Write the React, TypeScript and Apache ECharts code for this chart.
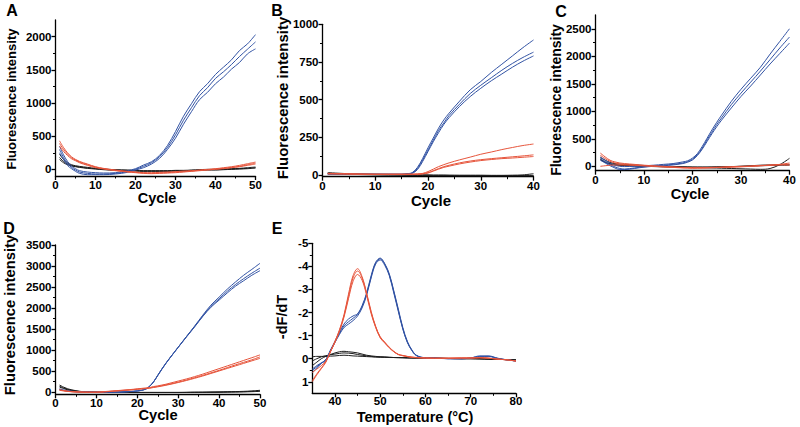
import React, { useEffect, useRef } from "react";
import * as echarts from "echarts";

// ---------- Panel A (cycles 1-50) ----------
const cyclesA = [1, 2, 3, 4, 5, 6, 8, 10, 12, 15, 18, 20, 22, 24, 26, 28, 30, 32, 34, 36, 38, 40, 42, 44, 46, 48, 50];
const blueA1 = [350, 220, 120, 50, 10, -20, -40, -50, -55, -50, -20, 10, 65, 115, 210, 360, 570, 800, 990, 1170, 1290, 1430, 1540, 1650, 1790, 1890, 2030];
const blueA2 = [300, 180, 90, 30, -10, -40, -60, -70, -70, -60, -35, 0, 45, 100, 190, 330, 520, 740, 930, 1110, 1230, 1370, 1470, 1580, 1700, 1810, 1920];
const blueA3 = [250, 150, 60, 10, -30, -60, -80, -80, -80, -70, -45, -10, 25, 80, 165, 300, 470, 680, 870, 1050, 1160, 1290, 1390, 1510, 1610, 1740, 1815];
const redA1 = [430, 330, 250, 190, 150, 120, 80, 40, 15, -10, -30, -40, -50, -50, -45, -40, -35, -25, -20, -10, 0, 10, 25, 40, 60, 85, 110];
const redA2 = [390, 300, 230, 175, 140, 110, 70, 35, 10, -15, -35, -45, -55, -60, -55, -50, -40, -35, -25, -15, -5, 5, 15, 30, 45, 70, 95];
const redA3 = [350, 270, 210, 160, 130, 100, 60, 25, 5, -20, -40, -50, -60, -65, -60, -55, -50, -40, -30, -20, -10, 0, 10, 25, 40, 60, 80];
const blackA1 = [230, 150, 100, 70, 55, 45, 30, 15, 5, -5, -10, -15, -20, -20, -20, -20, -15, -15, -10, -5, 0, 0, 5, 10, 15, 25, 35];
const blackA2 = [180, 120, 80, 60, 45, 35, 20, 10, 0, -10, -15, -20, -25, -25, -25, -25, -20, -20, -15, -10, -5, -5, 0, 5, 10, 15, 25];
const blackA3 = [150, 100, 70, 50, 40, 30, 15, 5, -5, -15, -20, -25, -30, -30, -30, -30, -25, -25, -20, -15, -10, -10, -5, 0, 5, 10, 20];

// ---------- Panel B (cycles 1-40) ----------
const cyclesB = [1, 5, 10, 15, 16, 17, 18, 19, 20, 21, 22, 23, 24, 26, 28, 30, 32, 34, 36, 38, 40];
const blueB1 = [8, 6, 5, 5, 8, 15, 50, 110, 180, 245, 310, 365, 410, 490, 565, 620, 680, 735, 790, 845, 896];
const blueB2 = [6, 5, 4, 4, 6, 12, 42, 100, 165, 230, 295, 345, 395, 470, 540, 595, 645, 695, 740, 780, 815];
const blueB3 = [5, 4, 3, 3, 5, 10, 35, 90, 155, 220, 280, 335, 380, 455, 520, 575, 625, 670, 715, 755, 790];
const redB1 = [10, 8, 5, 5, 5, 5, 6, 10, 22, 38, 55, 68, 80, 100, 118, 137, 152, 168, 182, 195, 205];
const redB2 = [8, 6, 4, 4, 4, 4, 5, 8, 15, 28, 42, 55, 64, 80, 92, 101, 108, 114, 120, 126, 133];
const redB3 = [7, 5, 3, 3, 3, 3, 4, 7, 12, 25, 38, 50, 58, 73, 85, 95, 102, 108, 112, 117, 122];
const blackB1 = [15, 8, 4, 2, 1, 0, 0, 0, 0, -1, -1, -1, -2, -2, -2, -2, -3, -3, -2, 0, 8];
const blackB2 = [10, 6, 2, 0, 0, -1, -2, -2, -2, -3, -3, -3, -3, -4, -4, -4, -4, -4, -4, -4, -3];
const blackB3 = [8, 4, 0, -2, -3, -3, -4, -4, -4, -5, -5, -5, -5, -6, -6, -6, -6, -6, -6, -6, -6];

// ---------- Panel C (cycles 1-40) ----------
const cyclesC = [1, 2, 3, 4, 5, 6, 8, 10, 12, 14, 16, 18, 19, 20, 21, 22, 23, 24, 25, 26, 28, 30, 32, 34, 36, 38, 40];
const blueC1 = [170, 110, 60, 20, 0, -5, 0, 10, 20, 35, 50, 80, 100, 150, 230, 360, 510, 660, 800, 930, 1180, 1400, 1600, 1800, 2040, 2270, 2500];
const blueC2 = [140, 80, 30, -10, -40, -50, -30, -10, 5, 20, 35, 60, 85, 130, 210, 330, 480, 620, 760, 880, 1120, 1330, 1530, 1730, 1940, 2150, 2350];
const blueC3 = [110, 60, 10, -30, -60, -60, -40, -15, 0, 10, 25, 50, 75, 115, 195, 310, 450, 590, 720, 840, 1060, 1270, 1460, 1660, 1860, 2050, 2240];
const redC1 = [240, 170, 110, 80, 60, 50, 35, 20, 10, 0, -10, -20, -22, -25, -25, -25, -22, -20, -18, -15, -10, -5, 0, 10, 20, 30, 40];
const redC2 = [200, 140, 90, 60, 40, 30, 20, 10, 0, -10, -15, -25, -28, -30, -30, -30, -28, -25, -22, -20, -10, 0, 5, 15, 20, 25, 20];
const redC3 = [0, 10, 20, 25, 25, 25, 20, 10, 0, -10, -20, -30, -32, -35, -33, -30, -28, -25, -22, -20, -15, -10, 0, 10, 20, 35, 60];
const blackC1 = [160, 110, 70, 50, 40, 35, 25, 15, 5, 0, -5, -10, -12, -15, -15, -15, -15, -15, -12, -10, -5, 0, 10, 20, 25, 30, 30];
const blackC2 = [130, 80, 50, 30, 20, 15, 10, 5, 0, -5, -10, -15, -18, -20, -22, -25, -28, -30, -32, -35, -40, -45, -50, -55, -40, 30, 145];
const blackC3 = [120, 70, 40, 25, 15, 10, 5, 0, -5, -10, -12, -15, -15, -15, -15, -15, -15, -12, -10, -8, -5, 0, 5, 10, 15, 20, 20];

// ---------- Panel D (cycles 1-50) ----------
const cyclesD = [1, 2, 3, 4, 6, 8, 10, 12, 14, 16, 18, 20, 22, 23, 24, 25, 26, 27, 28, 30, 32, 34, 36, 38, 40, 42, 44, 46, 48, 50];
const blueD1 = [80, 50, 30, 20, 10, 5, 0, 0, 0, 5, 15, 30, 70, 140, 250, 400, 550, 690, 820, 1070, 1320, 1570, 1830, 2070, 2260, 2450, 2620, 2780, 2920, 3065];
const blueD2 = [70, 45, 28, 18, 8, 4, 0, 0, 0, 5, 15, 30, 70, 140, 250, 400, 550, 690, 820, 1070, 1320, 1560, 1810, 2040, 2220, 2400, 2560, 2700, 2830, 2950];
const blueD3 = [60, 40, 25, 15, 7, 3, 0, 0, 0, 4, 14, 28, 68, 138, 248, 398, 545, 685, 815, 1065, 1310, 1550, 1800, 2020, 2190, 2360, 2520, 2650, 2780, 2890];
const redD1 = [60, 40, 25, 15, 5, 0, 0, 15, 30, 45, 60, 80, 100, 110, 135, 150, 170, 190, 215, 265, 315, 370, 430, 495, 560, 625, 690, 755, 820, 887];
const redD2 = [50, 35, 20, 12, 4, 0, 0, 10, 25, 40, 55, 72, 90, 100, 120, 137, 155, 175, 195, 240, 290, 345, 400, 460, 520, 585, 650, 710, 770, 840];
const redD3 = [45, 30, 18, 10, 3, 0, 0, 8, 22, 36, 50, 68, 85, 95, 112, 128, 145, 165, 185, 230, 278, 330, 385, 445, 505, 565, 625, 685, 745, 805];
const blackD1 = [170, 120, 80, 55, 20, 5, 0, -3, -5, -5, -5, -5, -5, -5, -5, -5, -5, -5, -5, -5, -3, 0, 0, 3, 5, 10, 15, 20, 30, 45];
const blackD2 = [140, 100, 65, 45, 15, 3, -2, -5, -6, -6, -6, -6, -6, -6, -6, -6, -6, -6, -6, -6, -5, -3, -2, 0, 2, 5, 8, 12, 20, 30];
const blackD3 = [120, 85, 55, 35, 10, 0, -3, -6, -8, -8, -8, -8, -8, -8, -8, -8, -8, -8, -8, -8, -7, -5, -4, -2, 0, 3, 5, 8, 12, 20];

// ---------- Panel E (temperature 35-80 °C, -dF/dT) ----------
const tempsE = [35, 36, 37, 38, 39, 40, 41, 42, 43, 44, 45, 46, 47, 48, 49, 50, 51, 52, 53, 54, 55, 56, 57, 58, 60, 62, 65, 68, 70, 72, 74, 76, 78, 80];
const blueE1 = [0.5, 0.35, 0.2, 0.05, -0.35, -0.72, -1.1, -1.42, -1.6, -1.75, -1.92, -2.25, -2.8, -3.55, -4.15, -4.33, -4.1, -3.65, -2.9, -2.1, -1.3, -0.72, -0.36, -0.14, -0.03, -0.03, 0, 0, -0.03, -0.1, -0.1, 0, 0.05, 0.1];
const blueE2 = [0.6, 0.4, 0.2, 0.05, -0.33, -0.7, -1.05, -1.35, -1.5, -1.65, -1.85, -2.2, -2.75, -3.5, -4.1, -4.28, -4.05, -3.6, -2.85, -2.05, -1.28, -0.7, -0.35, -0.13, -0.03, -0.02, 0, 0, -0.02, -0.08, -0.1, -0.02, 0.05, 0.1];
const blueE3 = [0.45, 0.3, 0.18, 0.04, -0.37, -0.75, -1.15, -1.5, -1.72, -1.85, -1.95, -2.3, -2.85, -3.6, -4.18, -4.36, -4.12, -3.68, -2.95, -2.15, -1.35, -0.75, -0.38, -0.15, -0.04, -0.03, 0, 0, -0.03, -0.12, -0.12, -0.01, 0.05, 0.1];
const redE1 = [1.0, 0.7, 0.43, 0.15, -0.29, -0.75, -1.25, -1.9, -2.8, -3.6, -3.9, -3.55, -2.85, -2.05, -1.4, -0.95, -0.72, -0.5, -0.32, -0.19, -0.14, -0.1, -0.07, -0.05, -0.03, -0.02, -0.02, -0.03, -0.03, -0.05, -0.02, 0.02, 0.05, 0.1];
const redE2 = [0.95, 0.66, 0.4, 0.13, -0.3, -0.73, -1.22, -1.85, -2.7, -3.5, -3.8, -3.5, -2.8, -2.0, -1.38, -0.93, -0.7, -0.48, -0.31, -0.18, -0.13, -0.09, -0.06, -0.05, -0.03, -0.02, -0.02, -0.03, -0.03, -0.04, -0.02, 0.02, 0.05, 0.1];
const redE3 = [0.6, 0.45, 0.3, 0.1, -0.3, -0.7, -1.18, -1.8, -2.6, -3.35, -3.65, -3.4, -2.75, -1.95, -1.35, -0.9, -0.68, -0.47, -0.3, -0.18, -0.13, -0.09, -0.06, -0.04, -0.03, -0.02, -0.02, -0.03, -0.03, -0.04, -0.02, 0.02, 0.05, 0.1];
const blackE1 = [0.3, 0.15, 0, -0.1, -0.18, -0.25, -0.3, -0.32, -0.3, -0.28, -0.25, -0.2, -0.15, -0.12, -0.1, -0.08, -0.07, -0.06, -0.05, -0.05, -0.05, -0.04, -0.04, -0.03, -0.03, -0.02, -0.01, 0, 0, 0, 0.02, 0.03, 0.04, 0.05];
const blackE2 = [0.1, 0, -0.08, -0.13, -0.17, -0.2, -0.23, -0.25, -0.24, -0.22, -0.18, -0.15, -0.12, -0.1, -0.08, -0.08, -0.07, -0.06, -0.05, -0.05, -0.04, -0.04, -0.03, -0.03, -0.02, -0.02, -0.01, 0, 0, 0.01, 0.02, 0.03, 0.04, 0.05];
const blackE3 = [-0.08, -0.1, -0.1, -0.1, -0.11, -0.12, -0.14, -0.15, -0.14, -0.12, -0.11, -0.1, -0.09, -0.08, -0.07, -0.06, -0.06, -0.05, -0.05, -0.04, -0.04, -0.03, -0.03, -0.03, -0.02, -0.02, -0.01, 0, 0, 0.01, 0.02, 0.03, 0.04, 0.05];

// ---------- Tick labels ----------
const xTicks50 = [0, 10, 20, 30, 40, 50];
const xMinor50 = [5, 15, 25, 35, 45];
const xTicks40 = [0, 10, 20, 30, 40];
const xMinor40 = [5, 15, 25, 35];
const xTicksE = [40, 50, 60, 70, 80];
const xMinorE = [45, 55, 65, 75];
const yTicksA = [0, 500, 1000, 1500, 2000];
const yMinorA = [250, 750, 1250, 1750];
const yTicksB = [0, 250, 500, 750, 1000];
const yMinorB = [125, 375, 625, 875];
const yTicksC = [0, 500, 1000, 1500, 2000, 2500];
const yMinorC = [250, 750, 1250, 1750, 2250];
const yTicksD = [0, 500, 1000, 1500, 2000, 2500, 3000, 3500];
const yMinorD = [250, 750, 1250, 1750, 2250, 2750, 3250];
const yTicksE = [-5, -4, -3, -2, -1, 0, 1];
const yMinorE = [-4.5, -3.5, -2.5, -1.5, -0.5, 0.5];

const BLUE = "#3152a3";
const RED = "#e6553c";
const BLACK = "#1e1e1e";
const FONT = "'Liberation Sans', Arial, sans-serif";

const panels = [
  {
    letter: "A", letterPos: [12, 10], yTitle: "Fluorescence intensity", yTitlePos: [11, 99], yTitleSize: 13,
    xTitle: "Cycle", xTitlePos: [157, 198], xTitleSize: 14.5, xLabelMargin: 3,
    grid: { left: 55.5, top: 20, width: 200, height: 156 },
    xMin: 0, xMax: 50, yMin: -100, yMax: 2250, inverse: false,
    xTicks: xTicks50, xMinor: xMinor50, yTicks: yTicksA, yMinor: yMinorA,
    xs: cyclesA, blue: [blueA1, blueA2, blueA3], red: [redA1, redA2, redA3], black: [blackA1, blackA2, blackA3],
  },
  {
    letter: "B", letterPos: [277, 10], yTitle: "Fluorescence intensity", yTitlePos: [282, 98], yTitleSize: 15,
    xTitle: "Cycle", xTitlePos: [431, 200], xTitleSize: 15, xLabelMargin: 3,
    grid: { left: 322.5, top: 24.3, width: 211, height: 152.4 },
    xMin: 0, xMax: 40, yMin: -12, yMax: 1000, inverse: false,
    xTicks: xTicks40, xMinor: xMinor40, yTicks: yTicksB, yMinor: yMinorB,
    xs: cyclesB, blue: [blueB1, blueB2, blueB3], red: [redB1, redB2, redB3], black: [blackB1, blackB2, blackB3],
  },
  {
    letter: "C", letterPos: [561, 11], yTitle: "Fluorescence intensity", yTitlePos: [556, 100], yTitleSize: 14,
    xTitle: "Cycle", xTitlePos: [690, 194], xTitleSize: 14.5, xLabelMargin: 3,
    grid: { left: 595.5, top: 15, width: 194, height: 155.7 },
    xMin: 0, xMax: 40, yMin: -80, yMax: 2750, inverse: false,
    xTicks: xTicks40, xMinor: xMinor40, yTicks: yTicksC, yMinor: yMinorC,
    xs: cyclesC, blue: [blueC1, blueC2, blueC3], red: [redC1, redC2, redC3], black: [blackC1, blackC2, blackC3],
  },
  {
    letter: "D", letterPos: [9, 228], yTitle: "Fluorescence intensity", yTitlePos: [10, 315], yTitleSize: 14.8,
    xTitle: "Cycle", xTitlePos: [158, 415], xTitleSize: 14.7, xLabelMargin: 3,
    grid: { left: 55.5, top: 245, width: 204.5, height: 149.3 },
    xMin: 0, xMax: 50, yMin: -50, yMax: 3500, inverse: false,
    xTicks: xTicks50, xMinor: xMinor50, yTicks: yTicksD, yMinor: yMinorD,
    xs: cyclesD, blue: [blueD1, blueD2, blueD3], red: [redD1, redD2, redD3], black: [blackD1, blackD2, blackD3],
  },
  {
    letter: "E", letterPos: [277, 228], yTitle: "-dF/dT", yTitlePos: [282, 317], yTitleSize: 14.5,
    xTitle: "Temperature (°C)", xTitlePos: [415, 416.5], xTitleSize: 14.5, xLabelMargin: 1.5,
    grid: { left: 312.3, top: 243.3, width: 203.7, height: 150 },
    xMin: 35, xMax: 80, yMin: -5, yMax: 1.5, inverse: true,
    xTicks: xTicksE, xMinor: xMinorE, yTicks: yTicksE, yMinor: yMinorE,
    xs: tempsE, blue: [blueE1, blueE2, blueE3], red: [redE1, redE2, redE3], black: [blackE1, blackE2, blackE3],
  },
];

function buildOption() {
  const grid: any[] = [];
  const xAxis: any[] = [];
  const yAxis: any[] = [];
  const series: any[] = [];
  const graphic: any[] = [];
  const axisLineStyle = { color: "#000", width: 1.3 };
  const labelStyle = {
    color: "#000", fontFamily: FONT, fontWeight: "bold", fontSize: 11.5,
    formatter: (v: number) => String(v),
  };

  panels.forEach((p, i) => {
    grid.push({ ...p.grid, containLabel: false });
    xAxis.push({
      type: "value", gridIndex: i, min: p.xMin, max: p.xMax, position: "bottom",
      axisLine: { show: true, onZero: false, lineStyle: axisLineStyle },
      axisTick: { show: true, length: 4, customValues: p.xTicks, lineStyle: axisLineStyle },
      axisLabel: { show: true, customValues: p.xTicks, margin: p.xLabelMargin, ...labelStyle },
      splitLine: { show: false },
    });
    xAxis.push({
      type: "value", gridIndex: i, min: p.xMin, max: p.xMax, position: "bottom",
      axisLine: { show: false, onZero: false },
      axisTick: { show: true, length: 2.5, customValues: p.xMinor, lineStyle: { color: "#000", width: 1 } },
      axisLabel: { show: false },
      splitLine: { show: false },
    });
    yAxis.push({
      type: "value", gridIndex: i, min: p.yMin, max: p.yMax, inverse: p.inverse, position: "left",
      axisLine: { show: true, onZero: false, lineStyle: axisLineStyle },
      axisTick: { show: true, length: 4, customValues: p.yTicks, lineStyle: axisLineStyle },
      axisLabel: { show: true, customValues: p.yTicks, margin: 4, ...labelStyle },
      splitLine: { show: false },
    });
    yAxis.push({
      type: "value", gridIndex: i, min: p.yMin, max: p.yMax, inverse: p.inverse, position: "left",
      axisLine: { show: false, onZero: false },
      axisTick: { show: true, length: 2.5, customValues: p.yMinor, lineStyle: { color: "#000", width: 1 } },
      axisLabel: { show: false },
      splitLine: { show: false },
    });

    const addGroup = (arrs: number[][], color: string, name: string) => {
      arrs.forEach((ys, k) => {
        series.push({
          type: "line", name: `${p.letter}-${name}-${k + 1}`,
          xAxisIndex: 2 * i, yAxisIndex: 2 * i,
          data: p.xs.map((x, j) => [x, ys[j]]),
          showSymbol: false, symbol: "none", smooth: 0.35,
          lineStyle: { color, width: 1 }, itemStyle: { color },
          clip: true,
        });
      });
    };
    addGroup(p.black, BLACK, "black");
    addGroup(p.blue, BLUE, "blue");
    addGroup(p.red, RED, "red");

    graphic.push({
      type: "text", x: p.letterPos[0], y: p.letterPos[1],
      style: { text: p.letter, fill: "#000", font: `bold 16px ${FONT}`, align: "center", verticalAlign: "middle" },
    });
    graphic.push({
      type: "text", x: p.yTitlePos[0], y: p.yTitlePos[1], rotation: Math.PI / 2,
      style: { text: p.yTitle, fill: "#000", font: `bold ${p.yTitleSize}px ${FONT}`, align: "center", verticalAlign: "middle" },
    });
    graphic.push({
      type: "text", x: p.xTitlePos[0], y: p.xTitlePos[1],
      style: { text: p.xTitle, fill: "#000", font: `bold ${p.xTitleSize}px ${FONT}`, align: "center", verticalAlign: "middle" },
    });
  });

  return {
    animation: false,
    backgroundColor: "#ffffff",
    grid, xAxis, yAxis, series, graphic,
  };
}

export default function App() {
  const ref = useRef<HTMLDivElement>(null);
  useEffect(() => {
    if (!ref.current) return;
    const chart = echarts.init(ref.current, null, { renderer: "svg" });
    chart.setOption(buildOption());
    return () => chart.dispose();
  }, []);
  return (
    <div
      ref={ref}
      style={{ position: "absolute", left: 0, top: 0, width: 800, height: 427, background: "#fff" }}
    />
  );
}
